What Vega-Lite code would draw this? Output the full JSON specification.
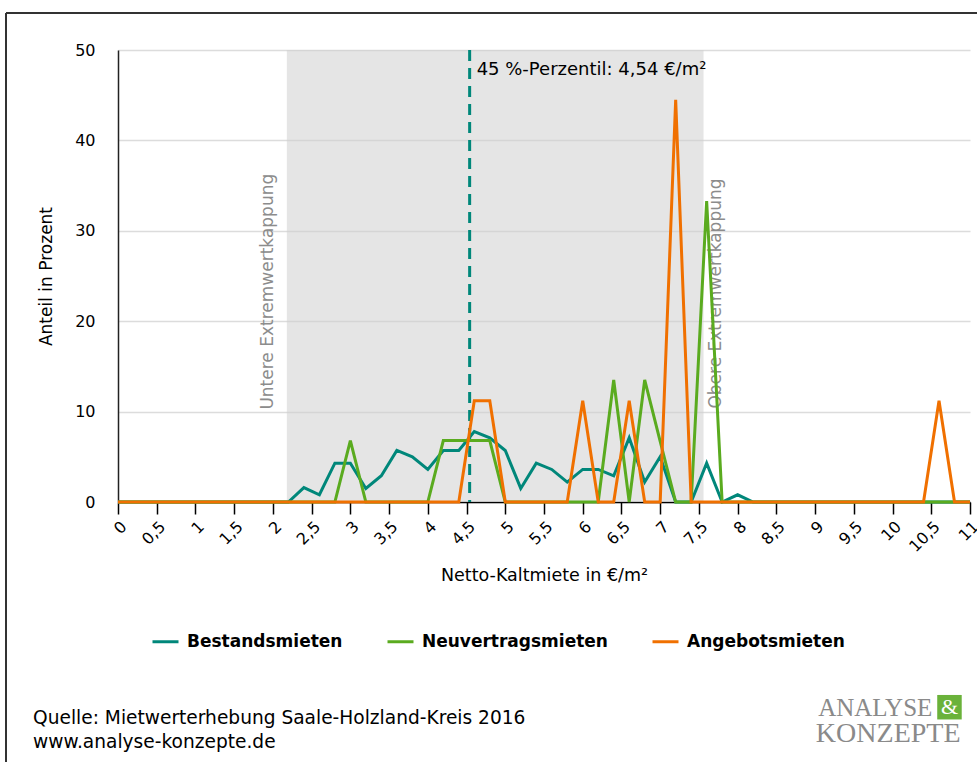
{
  "$schema": "https://vega.github.io/schema/vega-lite/v6.json",
  "width": 852,
  "height": 452,
  "autosize": {"type": "none"},
  "padding": {"left": 118, "top": 50, "right": 7, "bottom": 260},
  "background": "white",
  "config": {
    "font": "DejaVu Sans",
    "view": {"stroke": null},
    "legend": {"padding": 0},
    "locale": {"number": {"decimal": ",", "thousands": ".", "grouping": [3], "currency": ["", " €"]}}
  },
  "datasets": {
    "series": [
      {"x": 0, "b": 0, "n": 0, "a": 0},
      {"x": 0.2, "b": 0, "n": 0, "a": 0},
      {"x": 0.4, "b": 0, "n": 0, "a": 0},
      {"x": 0.6, "b": 0, "n": 0, "a": 0},
      {"x": 0.8, "b": 0, "n": 0, "a": 0},
      {"x": 1.0, "b": 0, "n": 0, "a": 0},
      {"x": 1.2, "b": 0, "n": 0, "a": 0},
      {"x": 1.4, "b": 0, "n": 0, "a": 0},
      {"x": 1.6, "b": 0, "n": 0, "a": 0},
      {"x": 1.8, "b": 0, "n": 0, "a": 0},
      {"x": 2.0, "b": 0, "n": 0, "a": 0},
      {"x": 2.2, "b": 0, "n": 0, "a": 0},
      {"x": 2.4, "b": 1.6, "n": 0, "a": 0},
      {"x": 2.6, "b": 0.8, "n": 0, "a": 0},
      {"x": 2.8, "b": 4.3, "n": 0, "a": 0},
      {"x": 3.0, "b": 4.3, "n": 6.8, "a": 0},
      {"x": 3.2, "b": 1.5, "n": 0, "a": 0},
      {"x": 3.4, "b": 2.9, "n": 0, "a": 0},
      {"x": 3.6, "b": 5.7, "n": 0, "a": 0},
      {"x": 3.8, "b": 5.0, "n": 0, "a": 0},
      {"x": 4.0, "b": 3.6, "n": 0, "a": 0},
      {"x": 4.2, "b": 5.7, "n": 6.8, "a": 0},
      {"x": 4.4, "b": 5.7, "n": 6.8, "a": 0},
      {"x": 4.6, "b": 7.8, "n": 6.8, "a": 11.2},
      {"x": 4.8, "b": 7.1, "n": 6.8, "a": 11.2},
      {"x": 5.0, "b": 5.7, "n": 0, "a": 0},
      {"x": 5.2, "b": 1.5, "n": 0, "a": 0},
      {"x": 5.4, "b": 4.3, "n": 0, "a": 0},
      {"x": 5.6, "b": 3.6, "n": 0, "a": 0},
      {"x": 5.8, "b": 2.2, "n": 0, "a": 0},
      {"x": 6.0, "b": 3.6, "n": 0, "a": 11.2},
      {"x": 6.2, "b": 3.6, "n": 0, "a": 0},
      {"x": 6.4, "b": 2.9, "n": 13.5, "a": 0},
      {"x": 6.6, "b": 7.1, "n": 0, "a": 11.2},
      {"x": 6.8, "b": 2.2, "n": 13.5, "a": 0},
      {"x": 7.0, "b": 5.0, "n": 6.7, "a": 0},
      {"x": 7.2, "b": 0, "n": 0, "a": 44.5},
      {"x": 7.4, "b": 0, "n": 0, "a": 0},
      {"x": 7.6, "b": 4.3, "n": 33.3, "a": 0},
      {"x": 7.8, "b": 0, "n": 0, "a": 0},
      {"x": 8.0, "b": 0.8, "n": 0, "a": 0},
      {"x": 8.2, "b": 0, "n": 0, "a": 0},
      {"x": 8.4, "b": 0, "n": 0, "a": 0},
      {"x": 8.6, "b": 0, "n": 0, "a": 0},
      {"x": 8.8, "b": 0, "n": 0, "a": 0},
      {"x": 9.0, "b": 0, "n": 0, "a": 0},
      {"x": 9.2, "b": 0, "n": 0, "a": 0},
      {"x": 9.4, "b": 0, "n": 0, "a": 0},
      {"x": 9.6, "b": 0, "n": 0, "a": 0},
      {"x": 9.8, "b": 0, "n": 0, "a": 0},
      {"x": 10.0, "b": 0, "n": 0, "a": 0},
      {"x": 10.2, "b": 0, "n": 0, "a": 0},
      {"x": 10.4, "b": 0, "n": 0, "a": 0},
      {"x": 10.6, "b": 0, "n": 0, "a": 11.2},
      {"x": 10.8, "b": 0, "n": 0, "a": 0},
      {"x": 11.0, "b": 0, "n": 0, "a": 0}
    ]
  },
  "layer": [
    {
      "data": {"values": [{"lo": 2.18, "hi": 7.56}]},
      "mark": {"type": "rect", "fill": "#cfcfcf", "opacity": 0.55},
      "encoding": {
        "x": {
          "field": "lo", "type": "quantitative",
          "scale": {"domain": [0, 11], "nice": false, "zero": false},
          "axis": {
            "title": "Netto-Kaltmiete in €/m²",
            "values": [0, 0.5, 1, 1.5, 2, 2.5, 3, 3.5, 4, 4.5, 5, 5.5, 6, 6.5, 7, 7.5, 8, 8.5, 9, 9.5, 10, 10.5, 11],
            "labelExpr": "replace(toString(datum.value), '.', ',')",
            "labelAngle": -45,
            "labelFontSize": 16,
            "labelColor": "#000000",
            "labelPadding": 4,
            "labelOverlap": false,
            "labelFlush": false,
            "tickCount": 30,
            "tickSize": 12,
            "tickColor": "#000000",
            "tickWidth": 1.5,
            "domainColor": "#000000",
            "domainWidth": 1.5,
            "grid": false,
            "titleFontSize": 17.5,
            "titleFontWeight": "normal",
            "titleColor": "#000000",
            "titlePadding": 12
          }
        },
        "x2": {"field": "hi"}
      }
    },
    {
      "data": {"values": [{"p": 4.54, "top": 50, "label": "45 %-Perzentil: 4,54 €/m²"}]},
      "layer": [
        {
          "mark": {"type": "rule", "color": "#00877a", "strokeWidth": 3, "strokeDash": [11, 7]},
          "encoding": {"x": {"field": "p", "type": "quantitative"}}
        },
        {
          "mark": {"type": "text", "align": "left", "baseline": "top", "dx": 7, "dy": 11, "fontSize": 18, "color": "#000000"},
          "encoding": {
            "x": {"field": "p", "type": "quantitative"},
            "y": {"field": "top", "type": "quantitative"},
            "text": {"field": "label"}
          }
        }
      ]
    },
    {
      "data": {"values": [{"cap": 2.18, "lev": 10, "t": "Untere Extremwertkappung"}]},
      "mark": {"type": "text", "angle": 270, "align": "left", "baseline": "bottom", "dx": 2, "dy": -10, "fontSize": 17, "color": "#8c8c8c"},
      "encoding": {
        "x": {"field": "cap", "type": "quantitative"},
        "y": {"field": "lev", "type": "quantitative"},
        "text": {"field": "t"}
      }
    },
    {
      "data": {"values": [{"cap": 7.56, "lev": 10, "t": "Obere Extremwertkappung"}]},
      "mark": {"type": "text", "angle": 270, "align": "left", "baseline": "bottom", "dx": 3, "dy": 21, "fontSize": 17, "color": "#8c8c8c"},
      "encoding": {
        "x": {"field": "cap", "type": "quantitative"},
        "y": {"field": "lev", "type": "quantitative"},
        "text": {"field": "t"}
      }
    },
    {
      "data": {"name": "series"},
      "mark": {"type": "line", "strokeWidth": 3},
      "encoding": {
        "x": {"field": "x", "type": "quantitative"},
        "y": {
          "field": "b", "type": "quantitative",
          "scale": {"domain": [0, 50], "nice": false},
          "axis": {
            "title": "Anteil in Prozent",
            "values": [0, 10, 20, 30, 40, 50],
            "grid": true,
            "gridColor": "#dcdcdc",
            "gridWidth": 1.5,
            "ticks": false,
            "labelPadding": 23,
            "labelFontSize": 16,
            "labelColor": "#000000",
            "domainColor": "#222222",
            "domainWidth": 1.5,
            "titleFontSize": 17,
            "titleFontWeight": "normal",
            "titleColor": "#000000",
            "titlePadding": 19
          }
        },
        "color": {
          "datum": "Bestandsmieten",
          "type": "nominal",
          "scale": {"domain": ["Bestandsmieten", "Neuvertragsmieten", "Angebotsmieten"], "range": ["#00877a", "#5aab1f", "#f07000"]},
          "legend": {
            "title": null,
            "orient": "none",
            "direction": "horizontal",
            "legendX": 33,
            "legendY": 577,
            "symbolType": "stroke",
            "symbolStrokeWidth": 3,
            "symbolSize": 676,
            "labelFontSize": 17,
            "labelFontWeight": "bold",
            "labelColor": "#000000",
            "labelOffset": 7,
            "labelLimit": 0,
            "columnPadding": 38
          }
        }
      }
    },
    {
      "data": {"name": "series"},
      "mark": {"type": "line", "strokeWidth": 3},
      "encoding": {
        "x": {"field": "x", "type": "quantitative"},
        "y": {"field": "n", "type": "quantitative"},
        "color": {"datum": "Neuvertragsmieten", "type": "nominal"}
      }
    },
    {
      "data": {"name": "series"},
      "mark": {"type": "line", "strokeWidth": 3},
      "encoding": {
        "x": {"field": "x", "type": "quantitative"},
        "y": {"field": "a", "type": "quantitative"},
        "color": {"datum": "Angebotsmieten", "type": "nominal"}
      }
    },
    {
      "data": {"values": [{"x": -1.446, "x2": 11.1, "y": 54.1, "y2": 54.1}, {"x": -1.446, "x2": -1.446, "y": 54.1, "y2": -28.8}]},
      "mark": {"type": "rule", "color": "#333333", "strokeWidth": 2, "clip": false},
      "encoding": {
        "x": {"field": "x", "type": "quantitative"},
        "x2": {"field": "x2"},
        "y": {"field": "y", "type": "quantitative"},
        "y2": {"field": "y2"}
      }
    },
    {
      "data": {"values": [{"t": "Quelle: Mietwerterhebung Saale-Holzland-Kreis 2016", "lx": -1.097, "ly": -24.6}, {"t": "www.analyse-konzepte.de", "lx": -1.097, "ly": -27.25}]},
      "mark": {"type": "text", "align": "left", "baseline": "alphabetic", "fontSize": 18.6, "color": "#000000", "clip": false},
      "encoding": {
        "x": {"field": "lx", "type": "quantitative"},
        "y": {"field": "ly", "type": "quantitative"},
        "text": {"field": "t"}
      }
    },
    {
      "data": {"values": [{"t": "ANALYSE", "lx": 9.04, "ly": -23.7}]},
      "mark": {"type": "text", "align": "left", "baseline": "alphabetic", "font": "Liberation Serif", "fontSize": 25, "color": "#8a8a8a", "clip": false},
      "encoding": {
        "x": {"field": "lx", "type": "quantitative"},
        "y": {"field": "ly", "type": "quantitative"},
        "text": {"field": "t"}
      }
    },
    {
      "data": {"values": [{"t": "KONZEPTE", "lx": 9.01, "ly": -26.6}]},
      "mark": {"type": "text", "align": "left", "baseline": "alphabetic", "font": "Liberation Serif", "fontSize": 28, "color": "#8a8a8a", "clip": false},
      "encoding": {
        "x": {"field": "lx", "type": "quantitative"},
        "y": {"field": "ly", "type": "quantitative"},
        "text": {"field": "t"}
      }
    },
    {
      "data": {"values": [{"t": "&", "lx": 10.735, "ly": -22.7}]},
      "layer": [
        {
          "mark": {"type": "point", "shape": "square", "filled": true, "size": 600, "color": "#6ab23a", "opacity": 1, "clip": false},
          "encoding": {
            "x": {"field": "lx", "type": "quantitative"},
            "y": {"field": "ly", "type": "quantitative"}
          }
        },
        {
          "mark": {"type": "text", "align": "center", "baseline": "middle", "font": "Liberation Serif", "fontSize": 22, "color": "#ffffff", "clip": false},
          "encoding": {
            "x": {"field": "lx", "type": "quantitative"},
            "y": {"field": "ly", "type": "quantitative"},
            "text": {"field": "t"}
          }
        }
      ]
    }
  ]
}
